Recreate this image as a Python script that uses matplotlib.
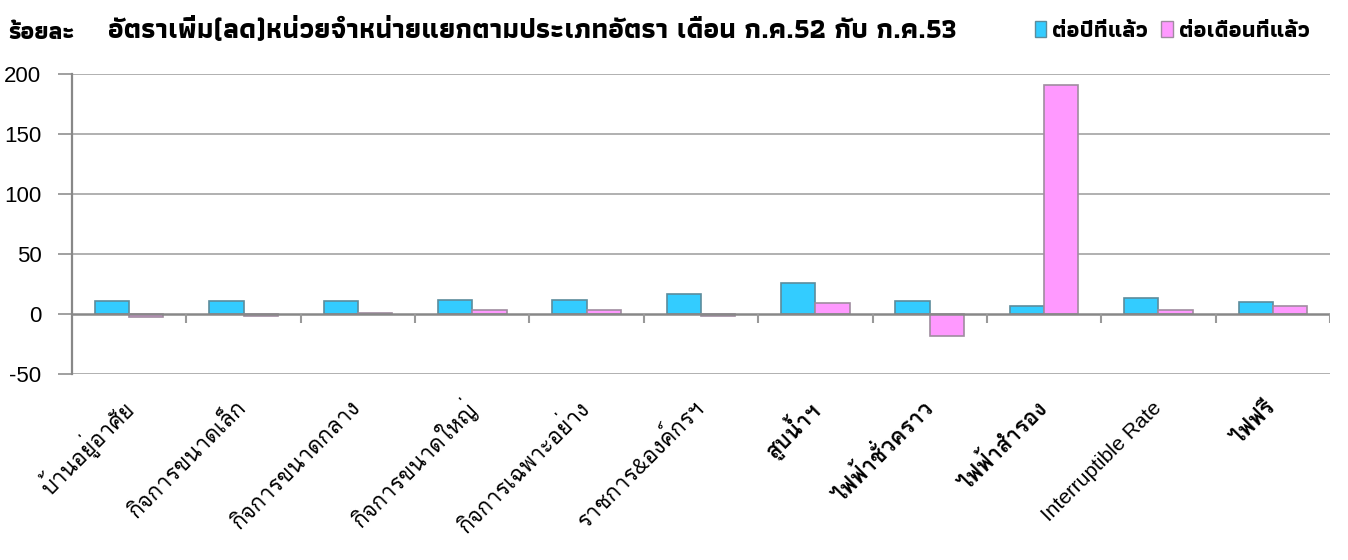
import matplotlib
matplotlib.use("Agg")
import matplotlib.pyplot as plt
import numpy as np
from matplotlib.patches import Patch

categories = ["บ้านอยู่อาศัย", "กิจการขนาดเล็ก", "กิจการขนาดกลาง", "กิจการขนาดใหญ่",
              "กิจการเฉพาะอย่าง", "ราชการ&องค์กรฯ", "สูบน้ำฯ", "ไฟฟ้าชั่วคราว",
              "ไฟฟ้าสำรอง", "Interruptible Rate", "ไฟฟรี"]
bold_labels = ["สูบน้ำฯ", "ไฟฟ้าชั่วคราว", "ไฟฟ้าสำรอง", "ไฟฟรี"]
yoy = [10.5, 10.5, 10.5, 11.7, 11.7, 16.4, 26.0, 10.5, 6.7, 13.3, 10.0]
mom = [-2.8, -1.7, 0.8, 3.0, 3.0, -1.7, 9.4, -18.3, 190.8, 3.0, 6.7]
series_names = ["ต่อปีที่แล้ว", "ต่อเดือนที่แล้ว"]
yticks = [-50, 0, 50, 100, 150, 200]
title = "อัตราเพิ่ม(ลด)หน่วยจำหน่ายแยกตามประเภทอัตรา เดือน ก.ค.52 กับ ก.ค.53"
ylabel = "ร้อยละ"

THAI_HEAD = ["Athiti", "Noto Sans Thai", "DejaVu Sans"]
THAI_TICK = ["Liberation Sans", "Loma", "DejaVu Sans"]

fig = plt.figure(figsize=(13.48, 5.6), dpi=100)
ax = fig.add_axes([72/1348, 1-374/560, (1330-72)/1348, 300/560])

x = np.arange(len(categories))
w = 0.3
cy, pk = "#33CCFF", "#FF99FF"
cy_edge, pk_edge = "#5C8C9C", "#A08CA0"
ax.bar(x - w/2, yoy, w, color=cy, edgecolor=cy_edge, linewidth=1.2, zorder=3)
ax.bar(x + w/2, mom, w, color=pk, edgecolor=pk_edge, linewidth=1.2, zorder=3)

ax.set_xlim(-0.5, len(categories) - 0.5)
ax.set_ylim(-50, 200)
ax.set_yticks(yticks)
ax.set_yticklabels([str(v) for v in yticks], family=["Liberation Sans"], fontsize=16)
ax.tick_params(axis="y", length=10, width=1.3, color="#999999", pad=12)
for v in yticks:
    if v != 0:
        ax.axhline(v, color="#AAAAAA", linewidth=1.3, zorder=1)
ax.axhline(0, color="#888888", linewidth=1.8, zorder=4)
ax.vlines(x + 0.5, -7.5, 0, color="#999999", linewidth=1.5, zorder=4)

for s in ["top", "right", "bottom"]:
    ax.spines[s].set_visible(False)
ax.spines["left"].set_color("#888888")
ax.spines["left"].set_linewidth(1.6)

ax.set_xticks(x)
ax.tick_params(axis="x", length=0, pad=22)
labels = ax.set_xticklabels(categories, rotation=45, ha="right", va="center",
                            rotation_mode="anchor", fontsize=16, family=THAI_TICK)
for lab in labels:
    if lab.get_text() == "Interruptible Rate":
        lab.set_fontsize(15)
    if lab.get_text() in bold_labels:
        lab.set_fontweight("bold")

fig.text(8/1348, 1-33/560, ylabel, family=THAI_HEAD, fontsize=17.5, fontweight="bold",
         va="center", ha="left")
fig.text(108/1348, 1-30/560, title, family=THAI_HEAD, fontsize=20, fontweight="bold",
         va="center", ha="left")

handles = [Patch(facecolor=cy, edgecolor=cy_edge), Patch(facecolor=pk, edgecolor=pk_edge)]
fig.legend(handles, series_names, loc="center left", bbox_to_anchor=(1014/1348, 1-31/560),
           ncol=2, frameon=False, prop={"family": THAI_HEAD, "size": 16.5, "weight": "bold"},
           handlelength=0.5, handleheight=0.7, handletextpad=0.25, columnspacing=0.6)

fig.savefig("out.png", dpi=100)
